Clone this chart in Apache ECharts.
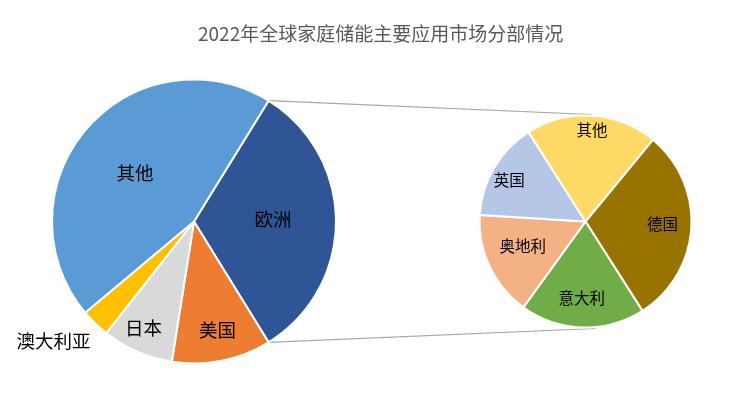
<!DOCTYPE html>
<html><head><meta charset="utf-8">
<script src="https://cdn.jsdelivr.net/npm/echarts@6/dist/echarts.min.js"></script>
<style>html,body{margin:0;padding:0;background:#fff}#c{width:733px;height:398px}</style>
</head><body><div id="c"></div>
<script>
// ---- data ----
var title = '2022年全球家庭储能主要应用市场分部情况';
var mainNames = ['欧洲', '美国', '日本', '澳大利亚', '其他'];
var mainValues = [32.4, 11.3, 8.1, 3.3, 44.9];
var subNames = ['德国', '意大利', '奥地利', '英国', '其他'];
var subValues = [30, 19, 16, 15, 20];

// ---- styles / layout ----
var mainColors = ['#2F5597', '#ED7D31', '#D9D9D9', '#FFC000', '#5B9BD5'];
var subColors = ['#997300', '#70AD47', '#F4B183', '#B4C7E7', '#FFD966'];
var mainCenter = [194, 221.5], mainR = 142;
var subCenter = [585.5, 221.5], subR = 106;
var mainLabelShift = [[5, -3], [9, 36], [-21, 39], [-89, 66], [-3, 0]];
var subLabelShift = [[21, -1], [-2, 21], [-12, 1], [-28, -13], [3, -35]];
var font = '"Noto Sans CJK SC", "Noto Sans", sans-serif';

var total = mainValues.reduce(function (a, b) { return a + b; }, 0);
var mainStart = mainValues[0] / total * 180; // aggregate slice centred on horizontal
var rad = mainStart * Math.PI / 180;
var p1 = [mainCenter[0] + mainR * Math.cos(rad), mainCenter[1] - mainR * Math.sin(rad)];
var p2 = [mainCenter[0] + mainR * Math.cos(rad), mainCenter[1] + mainR * Math.sin(rad)];
var q1 = [subCenter[0] + 6, subCenter[1] - subR - 1];
var q2 = [subCenter[0] + 10, subCenter[1] + subR + 1];

function mk(names, vals, cols) {
  return names.map(function (n, i) { return { name: n, value: vals[i], itemStyle: { color: cols[i] } }; });
}

var chart = echarts.init(document.getElementById('c'));
chart.setOption({
  animation: false,
  backgroundColor: '#fff',
  title: {
    text: title, left: 193, top: 19,
    textStyle: { fontFamily: font, fontSize: 19, fontWeight: 'normal', color: '#595959' }
  },
  graphic: [
    { type: 'line', shape: { x1: p1[0], y1: p1[1], x2: q1[0], y2: q1[1] }, style: { stroke: '#A6A6A6', lineWidth: 1.2 }, z: 0 },
    { type: 'line', shape: { x1: p2[0], y1: p2[1], x2: q2[0], y2: q2[1] }, style: { stroke: '#A6A6A6', lineWidth: 1.2 }, z: 0 }
  ],
  series: [
    {
      type: 'pie', center: mainCenter, radius: [0, mainR], startAngle: mainStart, clockwise: true,
      data: mk(mainNames, mainValues, mainColors),
      itemStyle: { borderColor: '#fff', borderWidth: 2 },
      label: { show: true, position: 'inside', color: '#000', fontFamily: font, fontSize: 18.5 },
      labelLine: { show: false },
      emphasis: { disabled: true },
      labelLayout: function (p) { var s = mainLabelShift[p.dataIndex]; return { dx: s[0], dy: s[1] }; }
    },
    {
      type: 'pie', center: subCenter, radius: [0, subR], startAngle: 50.5, clockwise: true,
      data: mk(subNames, subValues, subColors),
      itemStyle: { borderColor: '#fff', borderWidth: 2 },
      label: { show: true, position: 'inside', color: '#000', fontFamily: font, fontSize: 15.5 },
      labelLine: { show: false },
      emphasis: { disabled: true },
      labelLayout: function (p) { var s = subLabelShift[p.dataIndex]; return { dx: s[0], dy: s[1] }; }
    }
  ]
});
</script>
</body></html>
